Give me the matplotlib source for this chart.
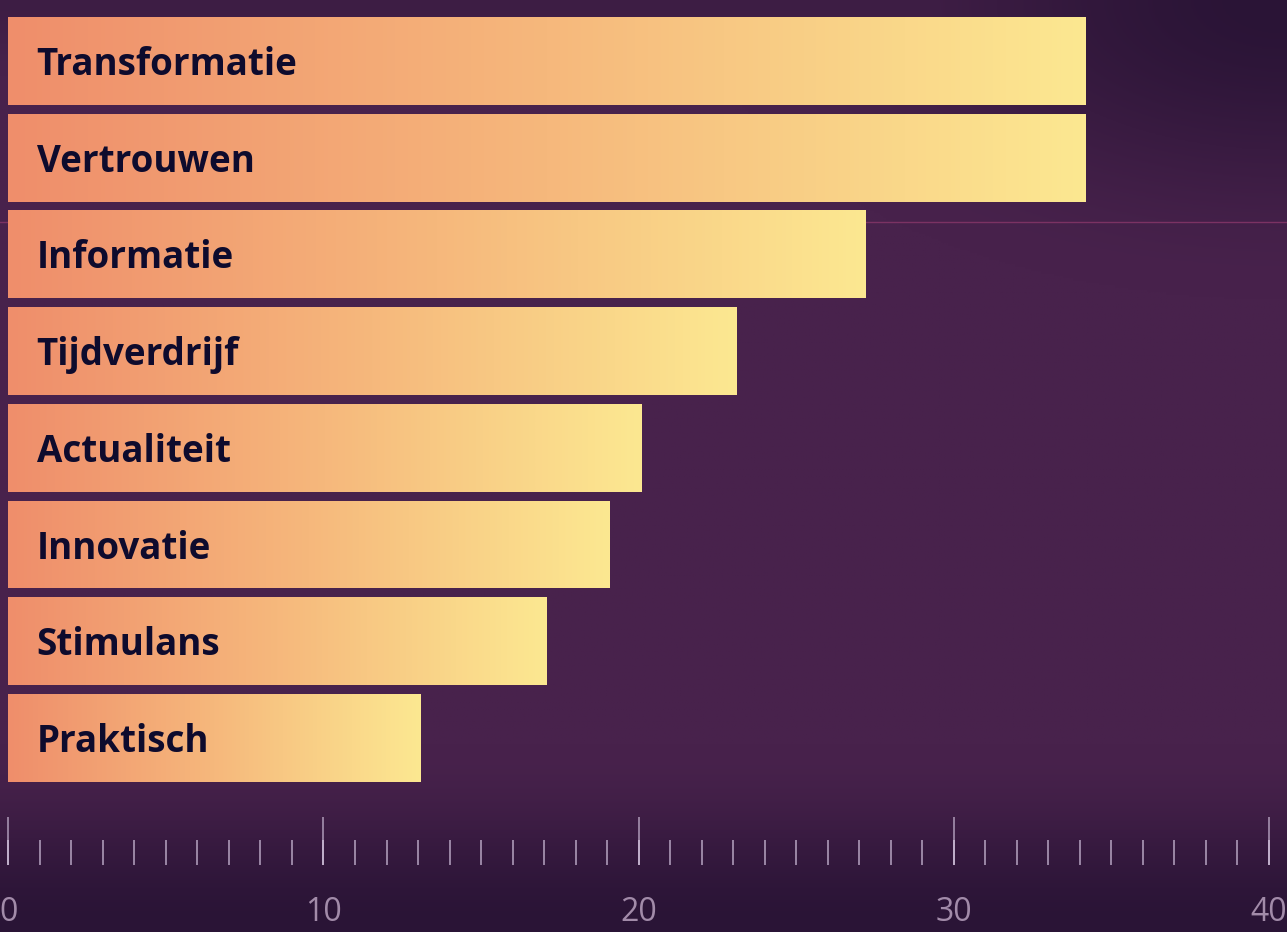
import numpy as np
import matplotlib
matplotlib.use("Agg")
from matplotlib import pyplot as plt
from matplotlib.colors import LinearSegmentedColormap
from matplotlib.lines import Line2D

# data
labels = ['Transformatie', 'Vertrouwen', 'Informatie', 'Tijdverdrijf',
          'Actualiteit', 'Innovatie', 'Stimulans', 'Praktisch']
values = [34.2, 34.2, 27.2, 23.1, 20.1, 19.1, 17.1, 13.1]
x_ticks = [0, 10, 20, 30, 40]

W, H = 1287, 932
fig = plt.figure(figsize=(W / 100, H / 100), dpi=100)


def smooth(a):
    a = np.clip(a, 0, 1)
    return a * a * (3 - 2 * a)


# achtergrond met vignet (donker rechtsboven en onderaan)
bg = fig.add_axes([0, 0, 1, 1])
bg.set_axis_off()
yy, xx = np.mgrid[0:1:400j, 0:1:400j]
d = np.sqrt(((xx - 1.0) / 0.45) ** 2 + (yy / 0.32) ** 2)
t_tr = smooth(1 - d)
t_bot = smooth((yy - 0.80) / 0.20)
t_top = smooth((0.08 - yy) / 0.08) * 0.35
t = np.maximum(np.maximum(t_tr, t_bot), t_top)[..., None]
center = np.array([72, 34, 76]) / 255
edge = np.array([42, 20, 54]) / 255
img = center * (1 - t) + edge * t
bg.imshow(img, extent=[0, 1, 1, 0], aspect='auto', zorder=0)
bg.set_xlim(0, 1)
bg.set_ylim(1, 0)

# dunne roze lijn
fig.add_artist(Line2D([0, 1], [1 - 222 / H, 1 - 222 / H], color='#7b3263', lw=1.0, zorder=1))

left = 8.3 / W
right = 1269 / W
bottom = 1 - 865 / H
ax = fig.add_axes([left, bottom, right - left, 1 - bottom])
ax.patch.set_alpha(0)
ax.set_zorder(2)

pos = np.arange(len(labels))
bars = ax.barh(pos, values, height=0.91, color='none', edgecolor='none')

cmap = LinearSegmentedColormap.from_list('warm', ['#ef8e6b', '#f6b87c', '#fce891'])
grad = np.linspace(0, 1, 256)[None, :]
for b, lab in zip(bars, labels):
    x0, y0 = b.get_x(), b.get_y()
    w, h = b.get_width(), b.get_height()
    im = ax.imshow(grad, extent=[x0, x0 + w, y0 + h, y0], aspect='auto', cmap=cmap, zorder=2)
    im.set_clip_path(b)
    ax.text(x0 + 0.9, y0 + h / 2 + 0.145, lab, va='baseline', ha='left', fontsize=26.5,
            fontweight='bold', color='#0e0b2d', family='Open Sans', zorder=3)

pitch = 96.7
ax.set_ylim((865 - 61) / pitch, -61 / pitch)
ax.set_xlim(0, 40)

ax.set_xticks(x_ticks)
ax.set_xticks(np.arange(0, 41, 1), minor=True)
ax.xaxis.remove_overlapping_locs = False
ax.set_yticks([])
ax.tick_params(axis='x', which='major', direction='in', length=34.5, width=1.4,
               color=(0.88, 0.82, 0.92, 0.55), labelsize=23, labelcolor='#a28ba9', pad=22)
ax.tick_params(axis='x', which='minor', direction='in', length=18, width=1.4,
               color=(0.88, 0.82, 0.92, 0.6))
for lbl in ax.get_xticklabels():
    lbl.set_family('Open Sans')
for s in ax.spines.values():
    s.set_visible(False)

fig.savefig('out.png', dpi=100)
